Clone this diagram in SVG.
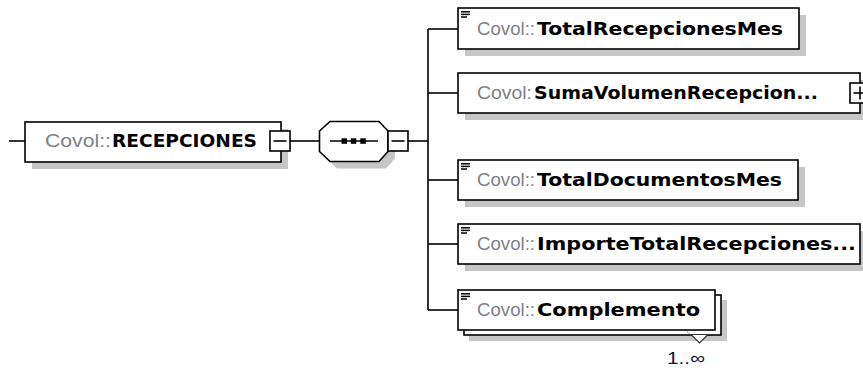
<svg xmlns="http://www.w3.org/2000/svg" width="863" height="368" viewBox="0 0 863 368">
<style>
.box{fill:#ffffff;stroke:#000000;stroke-width:1.6}
.sh{fill:#c6c6c6}
.ln{stroke:#000000;stroke-width:1.6;fill:none}
.ic{stroke:#000000;stroke-width:1.5}
.pre{font-family:"Liberation Sans",Arial,sans-serif;font-size:19px;fill:#7f7f86}
.nm{font-family:"DejaVu Sans",Verdana,sans-serif;font-size:18.5px;font-weight:bold;fill:#000000}
.occ{font-family:"Liberation Sans",Arial,sans-serif;font-size:17px;fill:#14143c}
</style>
<rect width="863" height="368" fill="#ffffff"/>
<g id="connectors">
<line class="ln" x1="9" y1="141" x2="25" y2="141"/>
<line class="ln" x1="290" y1="141" x2="319.5" y2="141"/>
<line class="ln" x1="408" y1="141" x2="428" y2="141"/>
<line class="ln" x1="428" y1="29" x2="428" y2="310"/>
<line class="ln" x1="428" y1="29" x2="458" y2="29"/>
<line class="ln" x1="428" y1="93" x2="458" y2="93"/>
<line class="ln" x1="428" y1="180" x2="458" y2="180"/>
<line class="ln" x1="428" y1="244" x2="458" y2="244"/>
<line class="ln" x1="428" y1="310" x2="458" y2="310"/>
</g>
<g id="recepciones">
<rect class="sh" x="32" y="129" width="256" height="40"/>
<rect class="box" x="25" y="122" width="256" height="40"/>
<text class="pre" x="45" y="147" textLength="66" lengthAdjust="spacingAndGlyphs">Covol::</text>
<text class="nm" x="112" y="147" textLength="145" lengthAdjust="spacingAndGlyphs">RECEPCIONES</text>
<rect class="box" x="270" y="131" width="20" height="20"/>
<line class="ln" x1="273.5" y1="141" x2="286.5" y2="141"/>
</g>
<g id="sequence">
<polygon class="sh" points="337,128.5 386,128.5 395,138 395,158.5 386,168.5 337,168.5 326.5,158.5 326.5,138"/>
<polygon class="box" points="330,121.5 379,121.5 388,131 388,151.5 379,161.5 330,161.5 319.5,151.5 319.5,131"/>
<line class="ln" x1="330" y1="141" x2="378" y2="141"/>
<rect x="341.5" y="138.3" width="5.5" height="5.5" fill="#000000"/>
<rect x="350.8" y="138.3" width="5.5" height="5.5" fill="#000000"/>
<rect x="360.3" y="138.3" width="5.5" height="5.5" fill="#000000"/>
<rect class="box" x="388" y="131" width="20" height="20"/>
<line class="ln" x1="391.5" y1="141" x2="404.5" y2="141"/>
</g>
<g id="totalRecepcionesMes">
<rect class="sh" x="465" y="15" width="341" height="41"/>
<rect class="box" x="458" y="8" width="341" height="41"/>
<line class="ic" x1="461" y1="11.8" x2="470" y2="11.8"/>
<line class="ic" x1="461" y1="14.4" x2="470" y2="14.4"/>
<line class="ic" x1="461" y1="17" x2="467" y2="17"/>
<text class="pre" x="477" y="35" textLength="58" lengthAdjust="spacingAndGlyphs">Covol::</text>
<text class="nm" x="537" y="35" textLength="246" lengthAdjust="spacingAndGlyphs">TotalRecepcionesMes</text>
</g>
<g id="sumaVolumenRecepcion">
<rect class="sh" x="465" y="80" width="398" height="40"/>
<rect class="box" x="458" y="73" width="402" height="40"/>
<text class="pre" x="477" y="99" textLength="55" lengthAdjust="spacingAndGlyphs">Covol:</text>
<text class="nm" x="534" y="99" textLength="284" lengthAdjust="spacingAndGlyphs">SumaVolumenRecepcion...</text>
<rect class="box" x="850" y="83" width="20" height="20"/>
<line class="ln" x1="853.5" y1="93" x2="866.5" y2="93"/>
<line class="ln" x1="860" y1="86.5" x2="860" y2="99.5"/>
</g>
<g id="totalDocumentosMes">
<rect class="sh" x="465" y="167" width="340" height="40"/>
<rect class="box" x="458" y="160" width="340" height="40"/>
<line class="ic" x1="461" y1="163.8" x2="470" y2="163.8"/>
<line class="ic" x1="461" y1="166.4" x2="470" y2="166.4"/>
<line class="ic" x1="461" y1="169" x2="467" y2="169"/>
<text class="pre" x="477" y="186" textLength="58" lengthAdjust="spacingAndGlyphs">Covol::</text>
<text class="nm" x="537" y="186" textLength="245" lengthAdjust="spacingAndGlyphs">TotalDocumentosMes</text>
</g>
<g id="importeTotalRecepciones">
<rect class="sh" x="465" y="231" width="398" height="40"/>
<rect class="box" x="458" y="224" width="402" height="40"/>
<line class="ic" x1="461" y1="227.8" x2="470" y2="227.8"/>
<line class="ic" x1="461" y1="230.4" x2="470" y2="230.4"/>
<line class="ic" x1="461" y1="233" x2="467" y2="233"/>
<text class="pre" x="477" y="250" textLength="58" lengthAdjust="spacingAndGlyphs">Covol::</text>
<text class="nm" x="537" y="250" textLength="319" lengthAdjust="spacingAndGlyphs">ImporteTotalRecepciones...</text>
</g>
<g id="complemento">
<rect class="sh" x="469" y="300" width="258" height="41"/>
<rect class="box" x="464" y="295" width="257" height="40"/>
<polygon points="691,334.5 699.5,343 708,334.5" fill="#ffffff" stroke="#333333" stroke-width="1.2"/>
<line x1="685" y1="330" x2="691" y2="335" stroke="#444444" stroke-width="1" stroke-dasharray="1.5,1.5"/>
<rect class="box" x="458" y="290" width="257" height="40"/>
<line class="ic" x1="461" y1="293.8" x2="470" y2="293.8"/>
<line class="ic" x1="461" y1="296.4" x2="470" y2="296.4"/>
<line class="ic" x1="461" y1="299" x2="467" y2="299"/>
<text class="pre" x="477" y="316" textLength="58" lengthAdjust="spacingAndGlyphs">Covol::</text>
<text class="nm" x="537" y="316" textLength="163" lengthAdjust="spacingAndGlyphs">Complemento</text>
<text class="occ" x="667" y="364" textLength="38" lengthAdjust="spacingAndGlyphs">1..∞</text>
</g>
</svg>
